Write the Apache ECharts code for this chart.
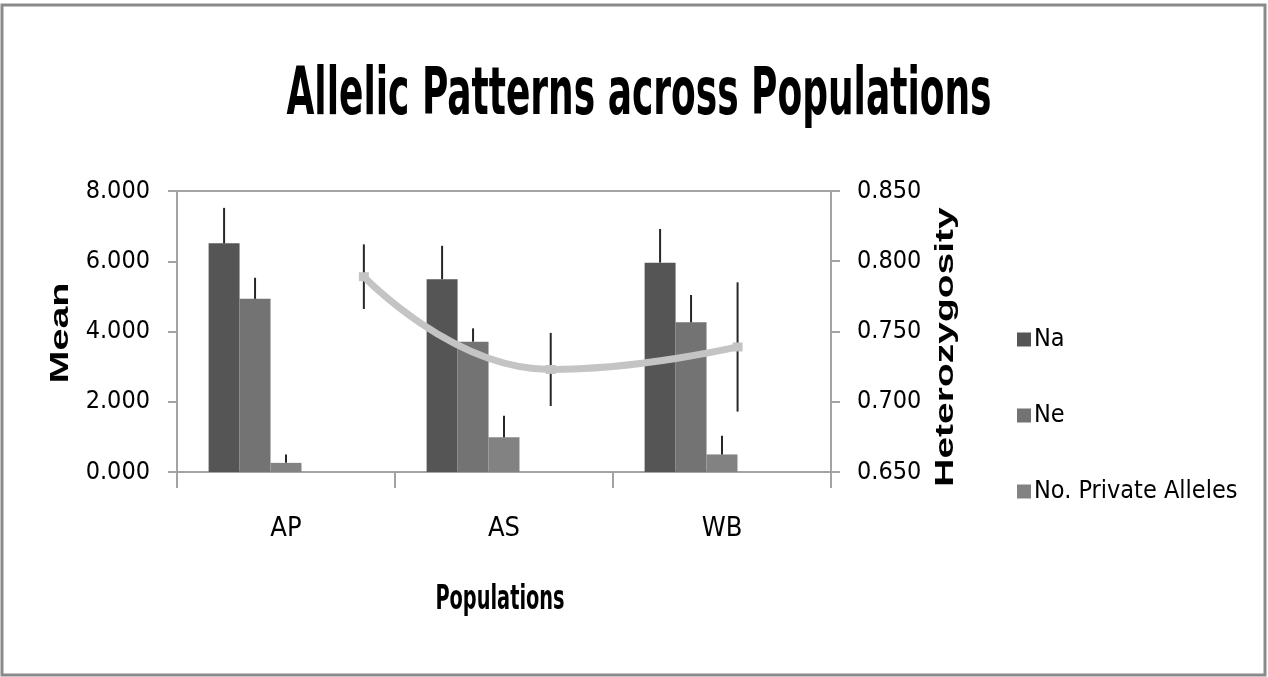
<!DOCTYPE html>
<html>
<head>
<meta charset="utf-8">
<script src="https://cdn.jsdelivr.net/npm/echarts@6/dist/echarts.min.js"></script>
<style>
html,body{margin:0;padding:0;background:#fff;}
#chart{width:1268px;height:677px;}
</style>
</head>
<body>
<div id="chart"></div>
<script>
// ---- data ----
const categories = ['AP', 'AS', 'WB'];
const seriesNames = ['Na', 'Ne', 'No. Private Alleles'];
const naValues  = [6.51, 5.49, 5.96];
const naErrors  = [1.01, 0.95, 0.96];
const neValues  = [4.93, 3.71, 4.26];
const neErrors  = [0.60, 0.38, 0.78];
const npaValues = [0.26, 0.99, 0.50];
const npaErrors = [0.24, 0.61, 0.53];
const heName = 'Heterozygosity';
const heValues  = [0.789, 0.723, 0.739];
const heErrors  = [0.023, 0.026, 0.046];
const meanTicks = [0, 2, 4, 6, 8];
const hetTicks  = [0.65, 0.70, 0.75, 0.80, 0.85];
const titleText = 'Allelic Patterns across Populations';
const xAxisTitle = 'Populations';
const yAxisTitle = 'Mean';

// ---- styling ----
const NARROW = "'DejaVu Sans Condensed','Liberation Sans Narrow','DejaVu Sans',sans-serif";
const AXIS_GREY = '#a3a3a3';
const BAR_FRAC = 0.142;
const barColors = ['#555555', '#737373', '#828282'];
const ERR_COLOR = '#262626';

const chart = echarts.init(document.getElementById('chart'));

function barErrRender(slot) {
  return function (params, api) {
    const i = api.value(0);
    const lo = api.coord([i, api.value(1)]);
    const hi = api.coord([i, api.value(2)]);
    const bandW = api.size([1, 0])[0];
    const x = lo[0] + (slot - 2) * bandW * BAR_FRAC;
    return { type: 'line', shape: { x1: x, y1: lo[1], x2: x, y2: hi[1] },
             style: { stroke: ERR_COLOR, lineWidth: 2 } };
  };
}
function lineErrRender(params, api) {
  const lo = api.coord([api.value(0), api.value(1)]);
  const hi = api.coord([api.value(0), api.value(2)]);
  return { type: 'line', shape: { x1: lo[0], y1: lo[1], x2: hi[0], y2: hi[1] },
           style: { stroke: ERR_COLOR, lineWidth: 2 } };
}

const barSets = [[naValues, naErrors], [neValues, neErrors], [npaValues, npaErrors]];
const series = [];
barSets.forEach(function (set, s) {
  series.push({
    name: seriesNames[s], type: 'bar', xAxisIndex: 0, yAxisIndex: 0,
    data: set[0], barWidth: (BAR_FRAC * 100) + '%', barGap: '0%',
    itemStyle: { color: barColors[s] }, z: 2
  });
});
// two empty slots (the original cluster keeps room for them)
for (let k = 0; k < 2; k++) {
  series.push({ name: 'slot' + k, type: 'bar', xAxisIndex: 0, yAxisIndex: 0,
    data: [], barWidth: (BAR_FRAC * 100) + '%', barGap: '0%', silent: true });
}
barSets.forEach(function (set, s) {
  series.push({
    name: seriesNames[s] + ' error', type: 'custom', xAxisIndex: 0, yAxisIndex: 0,
    renderItem: barErrRender(s), silent: true, z: 3,
    encode: { x: 0, y: [1, 2] },
    data: categories.map(function (c, i) { return [i, set[0][i], set[0][i] + set[1][i]]; })
  });
});
series.push({
  name: heName + ' error', type: 'custom', xAxisIndex: 1, yAxisIndex: 1,
  renderItem: lineErrRender, silent: true, z: 3,
  encode: { x: 0, y: [1, 2] },
  data: heValues.map(function (v, i) { return [i + 1, v - heErrors[i], v + heErrors[i]]; })
});
series.push({
  name: heName, type: 'line', xAxisIndex: 1, yAxisIndex: 1, smooth: true,
  data: heValues.map(function (v, i) { return [i + 1, v]; }),
  symbol: 'rect', symbolSize: [10, 9], showSymbol: true,
  itemStyle: { color: '#c4c4c4' },
  lineStyle: { color: '#c4c4c4', width: 7 }, z: 4
});

const option = {
  animation: false,
  backgroundColor: '#ffffff',
  legend: {
    data: seriesNames, orient: 'vertical', left: 1012, top: 322,
    itemWidth: 14, itemHeight: 14, itemGap: 51, icon: 'rect',
    textStyle: { fontFamily: NARROW, fontSize: 25, color: '#000', padding: [0, 0, 0, -2] }
  },
  grid: { left: 177, right: 437, top: 191, bottom: 205, containLabel: false },
  xAxis: [{
    type: 'category', data: categories, position: 'bottom',
    axisLine: { show: true, lineStyle: { color: AXIS_GREY, width: 2 } },
    axisTick: { show: true, length: 16, lineStyle: { color: AXIS_GREY, width: 2 } },
    axisLabel: { margin: 43, fontFamily: NARROW, fontSize: 27, color: '#000' },
    splitLine: { show: false }
  }, {
    type: 'value', min: 0, max: 3.5, position: 'top', show: true,
    axisLine: { show: true, lineStyle: { color: AXIS_GREY, width: 2 } },
    axisTick: { show: false }, axisLabel: { show: false }, splitLine: { show: false }
  }],
  yAxis: [{
    type: 'value', position: 'left', min: meanTicks[0], max: meanTicks[meanTicks.length - 1],
    interval: meanTicks[1] - meanTicks[0],
    axisLine: { show: true, lineStyle: { color: AXIS_GREY, width: 2 } },
    axisTick: { show: true, length: 9, lineStyle: { color: AXIS_GREY, width: 2 } },
    axisLabel: { margin: 27, fontFamily: NARROW, fontSize: 25, color: '#000',
                 formatter: function (v) { return v.toFixed(3); } },
    splitLine: { show: false }
  }, {
    type: 'value', position: 'right', min: hetTicks[0], max: hetTicks[hetTicks.length - 1],
    interval: 0.05,
    axisLine: { show: true, lineStyle: { color: AXIS_GREY, width: 2 } },
    axisTick: { show: true, length: 9, lineStyle: { color: AXIS_GREY, width: 2 } },
    axisLabel: { margin: 26, fontFamily: NARROW, fontSize: 25, color: '#000',
                 formatter: function (v) { return v.toFixed(3); } },
    splitLine: { show: false }
  }],
  graphic: [
    { type: 'rect', z: 100, silent: true,
      shape: { x: 2, y: 5, width: 1263, height: 670 },
      style: { fill: null, stroke: '#8a8a8a', lineWidth: 3 } },
    { type: 'text', z: 100, x: 639, y: 97, scaleY: 1.65, silent: true,
      style: { text: titleText, font: "bold 40px 'DejaVu Sans Condensed','DejaVu Sans',sans-serif",
               fill: '#000', align: 'center', verticalAlign: 'middle' } },
    { type: 'text', z: 100, x: 500, y: 600, scaleY: 1.6, silent: true,
      style: { text: xAxisTitle, font: "bold 21.5px 'DejaVu Sans Condensed','DejaVu Sans',sans-serif",
               fill: '#000', align: 'center', verticalAlign: 'middle' } },
    { type: 'text', z: 100, x: 61, y: 333, rotation: Math.PI / 2, scaleX: 1.52, silent: true,
      style: { text: yAxisTitle, font: "bold 26px 'Liberation Sans', Arial, sans-serif",
               fill: '#000', align: 'center', verticalAlign: 'middle' } },
    { type: 'text', z: 100, x: 946, y: 347, rotation: Math.PI / 2, scaleX: 1.5, silent: true,
      style: { text: heName, font: "bold 26px 'Liberation Sans', Arial, sans-serif",
               fill: '#000', align: 'center', verticalAlign: 'middle' } }
  ],
  series: series
};
chart.setOption(option);
</script>
</body>
</html>
